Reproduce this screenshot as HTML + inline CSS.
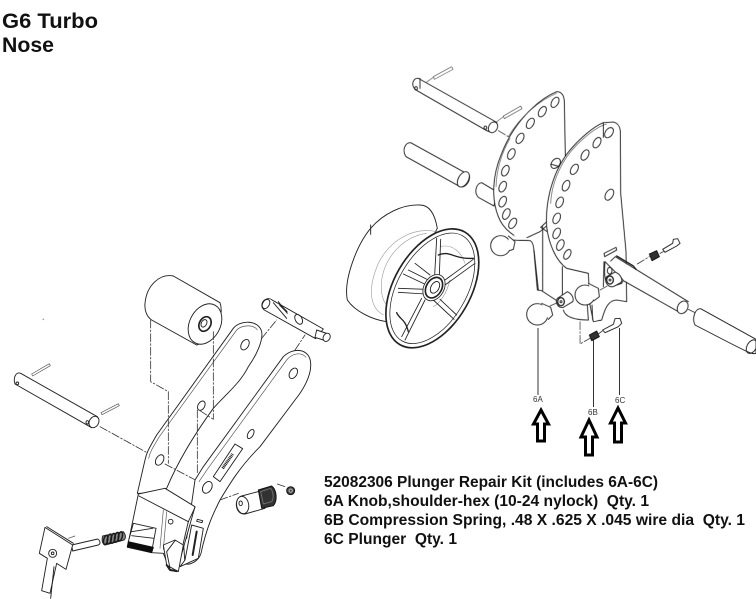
<!DOCTYPE html>
<html><head><meta charset="utf-8">
<style>
html,body{margin:0;padding:0;background:#fff;}
body{width:756px;height:599px;overflow:hidden;position:relative;}
svg{position:absolute;left:0;top:0;}
text{font-family:"Liberation Sans",Arial,sans-serif;white-space:pre;}
.l path,.l ellipse,.l line,.l circle,.l rect,.l polygon{fill:none;stroke:#222;stroke-width:2.8;stroke-linejoin:round;stroke-linecap:round;}
.l .w{fill:#fff;}
.l .t{stroke-width:2;stroke:#555;}
.l .d{stroke-width:2.4;stroke-dasharray:24 6 5 6;stroke:#333;}
.l .g{stroke-width:1.8;stroke:#999;}
.l .c{stroke-width:4.5;stroke:#1a1a1a;}
.l .n{stroke:none;fill:#fff;}
</style></head>
<body>
<svg width="756" height="599" viewBox="0 0 756 599">
<defs><filter id="b" x="-5%" y="-5%" width="110%" height="110%"><feGaussianBlur stdDeviation="0.8"/></filter></defs>
<text x="2" y="28" font-size="21.5" font-weight="bold" fill="#111" textLength="96" lengthAdjust="spacingAndGlyphs">G6 Turbo</text>
<text x="2" y="52" font-size="21.5" font-weight="bold" fill="#111" textLength="52" lengthAdjust="spacingAndGlyphs">Nose</text>

<!-- LEFT ASSEMBLY -->
<g class="l" transform="translate(0,260) scale(0.33333)" filter="url(#b)">
 <path class="w" d="M62,340 L292,470 C300,480 295,500 275,503 L45,372 C38,350 50,335 62,340Z"/>
 <ellipse class="w" cx="282" cy="486" rx="14" ry="18" transform="rotate(30 282 486)"/>
 <ellipse cx="52" cy="370" rx="4" ry="4"/>
 <ellipse cx="262" cy="487" rx="4" ry="5"/>
 <path class="t" d="M95,342 L148,311 L151,317 L98,348Z"/>
 <path class="t" d="M303,458 L355,431 L358,437 L306,464Z"/>
 <path class="d" d="M300,500 L445,580"/>
 <!-- roller -->
 <path class="w" d="M435,130 C440,75 480,40 520,48 L660,128 C672,160 655,235 590,255 L455,180 C440,170 433,150 435,130Z"/>
 <ellipse class="w" cx="615" cy="192" rx="46" ry="64" transform="rotate(28 615 192)"/>
 <ellipse cx="615" cy="192" rx="17" ry="23" transform="rotate(28 615 192)" style="stroke-width:5"/>
 <ellipse cx="612" cy="190" rx="8" ry="12" transform="rotate(28 612 190)"/>
 <!-- rear arm -->
 <path class="w" d="M412,700 L435,600 C440,575 450,560 470,525 L700,205 C720,180 775,178 785,215 C790,240 770,285 745,320 C720,370 680,400 640,445 C600,500 540,590 500,685 L430,700Z"/>
 <path class="t" d="M446,595 C450,575 460,560 478,530 L710,210 C725,195 760,192 772,210"/>
 <ellipse cx="735" cy="254" rx="11" ry="17" transform="rotate(30 735 254)"/>
 <ellipse cx="604" cy="437" rx="10" ry="15" transform="rotate(30 604 437)"/>
 <ellipse cx="479" cy="600" rx="11" ry="17" transform="rotate(30 479 600)"/>
 <path class="d" d="M452,180 L452,365 L505,395 L505,610"/>
 <path class="d" d="M640,215 L640,478 L600,452"/>
 <path class="d" d="M592,450 L592,640"/>
 <path class="d" d="M495,612 L590,662"/>
 <path class="d" d="M785,235 L830,180"/>
 <path class="d" d="M885,270 L915,225"/>
 <!-- upper cross pin -->
 <path class="w" d="M800,117 C810,112 815,120 820,122 L970,207 L947,236 L793,150 C780,140 785,122 800,117Z"/>
 <path class="w" d="M950,210 L985,222 C995,232 985,245 970,240 L945,232Z"/>
 <ellipse cx="798" cy="132" rx="10" ry="15" transform="rotate(30 798 132)"/>
 <ellipse class="w" cx="980" cy="232" rx="10" ry="13" transform="rotate(30 980 232)"/>
 <path d="M820,128 L860,175 M835,125 L862,160"/>
 <path d="M840,135 L860,155" style="stroke-width:5"/>
 <ellipse cx="896" cy="178" rx="10" ry="16" transform="rotate(-30 896 178)"/>
 <!-- front arm -->
 <path class="w" d="M560,835 L585,660 L610,620 L850,290 C880,260 930,265 932,310 C935,350 905,395 885,420 L780,560 C720,620 690,670 660,720 C640,760 620,800 603,880 C595,905 570,915 555,912 L550,840Z"/>
 <path class="t" d="M597,665 L622,628 L860,300 C878,278 905,276 918,292"/>
 <ellipse cx="880" cy="340" rx="11" ry="17" transform="rotate(30 880 340)"/>
 <ellipse cx="752" cy="522" rx="8" ry="15" transform="rotate(30 752 522)"/>
 <ellipse cx="622" cy="682" rx="13" ry="19" transform="rotate(30 622 682)"/>
 <path d="M640,650 L705,552 L728,566 L660,665Z"/>
 <path d="M668,625 L698,582" style="stroke-width:9;stroke-dasharray:3 2;stroke-linecap:butt;stroke:#222"/>
 <!-- shoulder bolt -->
 <path class="d" d="M660,720 L715,700"/>
 <path class="d" d="M832,672 L855,680"/>
 <path class="w" d="M725,708 L785,692 L795,745 L735,762 C705,765 700,715 725,708Z"/>
 <ellipse class="w" cx="728" cy="735" rx="18" ry="26" transform="rotate(-10 728 735)"/>
 <ellipse cx="722" cy="730" rx="5" ry="7"/>
 <path d="M775,690 L815,678 C832,690 832,725 820,737 L785,745Z" style="fill:#333;stroke:#111"/>
 <path d="M782,695 L812,685 C820,695 822,715 815,725 L790,732Z" style="stroke:#777;stroke-dasharray:2 3;stroke-width:3"/>
 <circle cx="872" cy="692" r="12" style="fill:#444;stroke:#111"/>
 <circle cx="872" cy="692" r="5" style="stroke:#bbb"/>
 <circle cx="130" cy="178" r="1" style="stroke:#999"/>
</g>

<!-- LOWER BLOCK AND PLUNGER PLATE -->
<g class="l" transform="translate(30,470) scale(0.33333)" filter="url(#b)">
 <path class="w" d="M325,72 L405,55 L495,110 L440,305 L420,300 L400,250 L365,248 L292,232Z"/>
 <path d="M327,78 L475,155 L495,112"/>
 <path d="M475,155 L440,305"/>
 <path class="t" d="M400,120 L390,235 M410,125 L400,238"/>
 <circle cx="422" cy="155" r="7"/>
 <path class="w" d="M310,160 L378,175 L365,245 L295,215Z"/>
 <path d="M305,185 L368,175 M305,197 L372,205"/>
 <path d="M295,215 L370,232 L365,248 L292,230Z" style="fill:#111;stroke:#111"/>
 <path class="w" d="M400,225 L435,210 L460,225 L445,305 L410,285Z"/>
 <path d="M435,212 L410,245 L420,295"/>
 <path d="M410,285 L420,300 L440,303" style="stroke-width:6;stroke:#222"/>
 <path class="w" d="M485,165 L520,175 L505,265 L450,290 L465,270Z"/>
 <path d="M500,185 L488,255" style="stroke-width:6"/>
 <path d="M502,148 L518,152 L516,158 L500,154Z"/>
 <!-- rod -->
 <path class="w" d="M125,225 L203,207 C212,212 212,222 205,225 L128,243Z"/>
 <path d="M115,205 L135,198" class="t"/>
 <!-- spring -->
 <path d="M218,198 L280,185 C288,195 288,205 282,210 L225,225 C215,220 215,205 218,198Z" style="fill:#888;stroke:#222"/>
 <ellipse class="c" cx="227" cy="210" rx="6" ry="14" transform="rotate(12 227 210)"/>
 <ellipse class="c" cx="238" cy="207" rx="6" ry="15" transform="rotate(12 238 207)"/>
 <ellipse class="c" cx="249" cy="205" rx="6" ry="15" transform="rotate(12 249 205)"/>
 <ellipse class="c" cx="260" cy="202" rx="6" ry="15" transform="rotate(12 260 202)"/>
 <ellipse class="c" cx="271" cy="199" rx="6" ry="14" transform="rotate(12 271 199)"/>
 <!-- plate -->
 <path class="w" d="M45,172 L128,225 L108,298 L80,280 L60,370 L35,362 L52,265 L28,250Z"/>
 <path d="M50,170 L130,220"/>
 <circle cx="68" cy="250" r="12"/><circle cx="68" cy="250" r="4"/>
 <path d="M72,290 L62,385"/>
</g>

<!-- RIGHT ASSEMBLY -->
<g class="l" transform="translate(380,60) scale(0.33333)" filter="url(#b)">
 <path class="w" d="M115,55 L350,187 C356,205 340,222 320,212 L108,90 C90,75 100,52 115,55Z"/>
 <path d="M120,55 L120,85"/>
 <ellipse cx="108" cy="85" rx="4" ry="5"/>
 <ellipse class="w" cx="339" cy="202" rx="13" ry="17" transform="rotate(30 339 202)"/>
 <ellipse cx="316" cy="203" rx="4" ry="5"/>
 <path class="t" d="M160,50 L215,20 L219,28 L163,58Z"/>
 <path class="t" d="M140,66 L160,52 M350,185 L370,170"/>
 <path class="t" d="M370,168 L422,138 L426,146 L373,176Z"/>
 <path class="d" d="M355,212 L385,230"/>
 <!-- sleeve -->
 <path class="w" d="M92,248 L268,345 C272,365 255,385 240,380 L78,290 C65,270 75,248 92,248Z"/>
 <ellipse class="w" cx="250" cy="358" rx="15" ry="25" transform="rotate(30 250 358)"/>
 <path class="w" d="M305,368 L350,395 L342,438 L295,412 C280,395 290,370 305,368Z"/>
 <!-- plate 1 -->
 <path class="w" d="M530,95 C545,95 552,105 553,125 L556,290 L520,480 L480,515 L430,538 C410,535 370,510 355,470 C335,420 335,350 365,280 C400,190 470,120 530,95Z"/>
 <path class="t" d="M385,230 C420,170 480,120 530,100"/>
 <path class="t" d="M348,380 C350,320 370,270 390,235"/>
 <ellipse cx="525" cy="127" rx="10" ry="17" transform="rotate(30 525 127)"/>
 <ellipse cx="487" cy="155" rx="10" ry="17" transform="rotate(30 487 155)"/>
 <ellipse cx="451" cy="190" rx="10" ry="17" transform="rotate(30 451 190)"/>
 <ellipse cx="420" cy="235" rx="10" ry="17" transform="rotate(30 420 235)"/>
 <ellipse cx="394" cy="282" rx="10" ry="17" transform="rotate(25 394 282)"/>
 <ellipse cx="376" cy="332" rx="10" ry="17" transform="rotate(25 376 332)"/>
 <ellipse cx="368" cy="380" rx="10" ry="17" transform="rotate(25 368 380)"/>
 <ellipse cx="368" cy="425" rx="10" ry="17" transform="rotate(25 368 425)"/>
 <ellipse cx="379" cy="462" rx="10" ry="17" transform="rotate(25 379 462)"/>
 <ellipse cx="398" cy="490" rx="10" ry="17" transform="rotate(30 398 490)"/>
 <ellipse cx="527" cy="310" rx="12" ry="17" transform="rotate(40 527 310)"/>
 <path d="M512,312 L545,322"/>
 <!-- tail of plate 1 -->
 <path class="n" d="M400,525 L470,540 L490,700 L460,700 L440,560Z"/>
 <path d="M400,540 C420,542 440,540 450,542 C458,545 460,555 461,565 L472,690 L485,692 L535,725"/>
 <path d="M475,690 L462,570"/>
 <path d="M488,692 L488,500 M482,502 L500,485 L502,515 L482,502"/>
 <path d="M547,620 L547,705"/>
 <!-- knob 1 -->
 <circle class="w" cx="362" cy="557" r="30"/>
 <path class="w" d="M385,528 L405,545 L400,568 L388,572"/>
 <!-- plate 2 -->
 <path class="w" d="M670,188 L700,186 C715,190 720,200 721,215 L722,400 L738,575 L740,725 L710,720 C685,720 675,745 665,780 L640,785 L630,735 L625,640 L560,625 C525,600 505,545 500,500 C495,420 520,330 570,270 C600,235 640,200 670,188Z"/>
 <path class="t" d="M512,430 C515,360 550,295 590,255 C620,225 650,200 680,192"/>
 <ellipse cx="687" cy="218" rx="11" ry="17" transform="rotate(35 687 218)"/>
 <ellipse cx="651" cy="248" rx="10" ry="17" transform="rotate(30 651 248)"/>
 <ellipse cx="615" cy="285" rx="10" ry="17" transform="rotate(30 615 285)"/>
 <ellipse cx="583" cy="328" rx="10" ry="17" transform="rotate(30 583 328)"/>
 <ellipse cx="558" cy="377" rx="10" ry="17" transform="rotate(25 558 377)"/>
 <ellipse cx="539" cy="427" rx="10" ry="17" transform="rotate(25 539 427)"/>
 <ellipse cx="530" cy="475" rx="10" ry="17" transform="rotate(25 530 475)"/>
 <ellipse cx="530" cy="520" rx="10" ry="17" transform="rotate(25 530 520)"/>
 <ellipse cx="541" cy="555" rx="10" ry="17" transform="rotate(25 541 555)"/>
 <ellipse cx="562" cy="583" rx="9" ry="16" transform="rotate(30 562 583)"/>
 <ellipse cx="688" cy="404" rx="11" ry="18" transform="rotate(30 688 404)"/>
 <path d="M670,188 L670,232"/>
 <path d="M672,580 L708,562 L710,570 L674,590Z"/>
 <path d="M622,735 L625,780 M636,735 L638,780"/>
 <path d="M550,750 C555,770 580,780 625,780"/>
 <!-- spacer 1 -->
 <path class="w" d="M532,715 L562,695 C578,702 582,718 578,725 L550,742 C532,745 525,725 532,715Z"/>
 <ellipse cx="543" cy="725" rx="10" ry="12" style="stroke-width:4"/>
 <circle cx="543" cy="725" r="3"/>
 <path class="d" d="M510,738 L532,728"/>
 <!-- knob mid -->
 <circle class="w" cx="615" cy="705" r="30"/>
 <path class="w" d="M625,670 L655,685 L658,710 L642,722"/>
 <path class="d" d="M660,690 L682,678"/>
 <!-- knob 6A -->
 <circle class="w" cx="472" cy="763" r="32"/>
 <path class="w" d="M485,730 L512,742 L518,765 L505,778"/>
 <!-- bracket -->
 <path d="M672,605 L670,680"/>
 <path class="w" d="M675,605 L730,660 L725,670 L695,680 C680,680 670,660 675,605Z"/>
 <ellipse cx="689" cy="632" rx="7" ry="10"/>
 <path class="w" d="M680,650 L705,636 C722,642 730,660 722,668 L700,680 C680,682 672,662 680,650Z"/>
 <ellipse cx="690" cy="660" rx="10" ry="12" style="stroke-width:4"/>
 <circle cx="690" cy="660" r="3"/>
 <!-- long pin -->
 <path class="n" d="M705,592 L925,725 L905,760 L730,660Z"/>
 <path d="M692,603 L706,590 L925,725 M730,662 L895,755"/>
 <ellipse class="w" cx="908" cy="742" rx="15" ry="20" transform="rotate(30 908 742)"/>
 <path d="M710,588 L760,618 L768,628" style="stroke-width:4"/>
 <!-- end sleeve -->
 <path class="w" d="M962,746 L1128,838 L1128,880 C1115,885 1100,875 945,795 C935,775 945,745 962,746Z"/>
 <ellipse cx="1115" cy="860" rx="14" ry="22" transform="rotate(30 1115 860)"/>
 <path class="d" d="M925,748 L945,758"/>
 <!-- upper screw -->
 <path class="d" d="M772,612 L808,590"/>
 <path d="M808,582 L830,572 L838,590 L816,602Z" style="fill:#333;stroke:#111"/>
 <path class="d" d="M840,580 L850,575"/>
 <path class="w" d="M848,568 L878,550 L880,538 L893,536 L900,550 L890,558 L855,577Z"/>
 <!-- 6B/6C parts -->
 <path class="d" d="M600,785 L600,852 L630,835"/>
 <path d="M628,825 L650,813 L658,830 L635,842Z" style="fill:#333;stroke:#111"/>
 <path class="w" d="M668,810 L700,793 L705,776 L720,775 L725,790 L715,800 L675,818Z"/>
 <path class="d" d="M655,822 L668,812"/>
</g>

<!-- LEADERS -->
<g stroke="#333" stroke-width="1">
 <line x1="538" y1="328" x2="538" y2="395"/>
 <line x1="593.5" y1="340" x2="593.5" y2="407"/>
 <line x1="619.5" y1="328" x2="619.5" y2="395"/>
</g>

<!-- WHEEL -->
<g class="l" transform="translate(340,200) scale(0.33333)" filter="url(#b)">
 <path class="w" d="M92,85 C130,40 190,12 240,15 C270,15 285,45 292,85 L140,365 C100,360 45,335 22,300 C10,240 50,135 92,85Z"/>
 <path d="M92,75 L92,103"/>
 <path class="g" d="M290,95 C220,80 150,120 115,190 C85,260 85,320 130,345"/>
 <path class="g" d="M260,100 C190,110 135,170 125,240 C120,285 130,310 150,325"/>
 <ellipse class="w" cx="277" cy="265" rx="115" ry="195" transform="rotate(30 277 265)" style="stroke-width:5;stroke:#222"/>
 <ellipse cx="277" cy="265" rx="103" ry="182" transform="rotate(30 277 265)" style="stroke-width:2.2"/>
 <path class="g" d="M300,140 C340,130 365,160 375,190 M330,240 C320,280 300,310 280,320"/>
 <path style="stroke-width:2.6" d="M290,115 L284,225 M302,118 L298,225 M400,178 L315,240 M405,190 L315,255 M190,222 L260,255 M225,190 L270,225 M205,210 L265,240 M175,265 L255,268 M175,277 L255,282 M255,300 L195,420 M245,295 L185,410 M280,300 L342,358 M300,298 L350,345"/>
 <path style="stroke-width:4" d="M295,165 C330,150 340,178 400,175"/>
 <path style="stroke-width:4" d="M170,338 C180,360 195,355 205,395"/>
 <ellipse cx="282" cy="263" rx="30" ry="42" transform="rotate(30 282 263)" class="w" style="stroke-width:2.5"/>
 <ellipse cx="282" cy="263" rx="23" ry="33" transform="rotate(30 282 263)" style="stroke-width:5;fill:#fff"/>
 <ellipse cx="285" cy="262" rx="12" ry="19" transform="rotate(30 285 262)"/>
</g>

<!-- ARROWS -->
<g fill="none" stroke="#000" stroke-width="3" stroke-linejoin="miter">
 <path d="M541,410 L548.5,424 L544.5,424 L544.5,441 L537.5,441 L537.5,424 L533.5,424Z"/>
 <path d="M589,420 L597,437 L592.5,437 L592.5,455 L585.5,455 L585.5,437 L581,437Z"/>
 <path d="M618,408 L625.5,423 L621.5,423 L621.5,442 L614.5,442 L614.5,423 L610.5,423Z"/>
</g>
<g font-size="8" fill="#333">
 <text x="533" y="402">6A</text>
 <text x="588" y="415">6B</text>
 <text x="615" y="403">6C</text>
</g>
<g font-size="15.5" font-weight="bold" fill="#111">
 <text x="324" y="487" textLength="334" lengthAdjust="spacingAndGlyphs">52082306 Plunger Repair Kit (includes 6A-6C)</text>
 <text x="324" y="506" textLength="325" lengthAdjust="spacingAndGlyphs" xml:space="preserve">6A Knob,shoulder-hex (10-24 nylock)  Qty. 1</text>
 <text x="324" y="525" textLength="421" lengthAdjust="spacingAndGlyphs" xml:space="preserve">6B Compression Spring, .48 X .625 X .045 wire dia  Qty. 1</text>
 <text x="324" y="544" textLength="133" lengthAdjust="spacingAndGlyphs" xml:space="preserve">6C Plunger  Qty. 1</text>
</g>
</svg>
</body></html>
